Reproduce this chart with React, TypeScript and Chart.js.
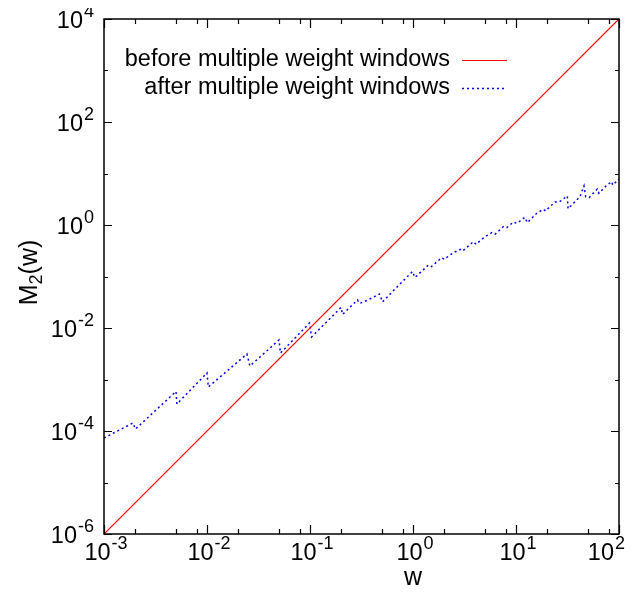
import { useEffect, useRef } from "react";
import { Chart, registerables } from "chart.js";

Chart.register(...registerables);

// M2(w) before the weight windows: a straight w^2 line
const beforeW = [1e-3, 1e2];
const beforeM = [1e-6, 1e4];

// M2(w) after multiple weight windows (sawtooth)
const afterW = [
  0.001, 0.00191, 0.00202, 0.005, 0.0051, 0.01, 0.0103, 0.0244, 0.0261, 0.05,
  0.0517, 0.099, 0.1035, 0.2, 0.207, 0.289, 0.303, 0.366, 0.473, 0.506,
  0.668, 0.989, 1.045, 1.41, 1.51, 1.9, 2.01, 2.46, 2.9, 3.04,
  3.85, 4.09, 5.0, 5.81, 6.25, 7.53, 8.13, 9.42, 10.2, 12.2,
  12.9, 15.9, 18.4, 19.3, 23.9, 26.3, 31.5, 32.0, 34.8, 41.8,
  45.7, 47.5, 51.2, 61.5, 63.9, 76.0, 85.0, 86.9, 100,
];
const afterM = [
  7.3e-5, 1.43e-4, 1.09e-4, 5.85e-4, 3.34e-4, 1.34e-3, 7.15e-4, 3.13e-3, 1.83e-3, 5.85e-3,
  3.27e-3, 0.0125, 0.0067, 0.025, 0.0183, 0.035, 0.03, 0.035, 0.0457, 0.032,
  0.0571, 0.125, 0.0957, 0.167, 0.156, 0.232, 0.216, 0.29, 0.337, 0.313,
  0.474, 0.422, 0.593, 0.708, 0.659, 0.927, 0.887, 1.14, 1.08, 1.41,
  1.11, 1.69, 2.02, 1.87, 2.8, 2.8, 3.66, 2.07, 2.45, 3.55,
  5.72, 3.55, 3.39, 5.0, 4.13, 5.9, 6.93, 5.98, 7.82,
];

// axis decades
const xMajorExp = [-3, -2, -1, 0, 1, 2];
const xMinorFactors = [2, 5, 8];
const yTickExp = [-6, -5, -4, -3, -2, -1, 0, 1, 2, 3, 4];
const yLabelExp = [-6, -4, -2, 0, 2, 4];

const seriesLabels = ["before multiple weight windows", "after multiple weight windows"];
const seriesColors = ["#ff0000", "#0000ff"];
const xTitle = "w";

const FONT = '"Liberation Sans", Arial, Helvetica, sans-serif';
const BASE_PX = 23.5;
const SUP_PX = 18;

function measurePower(ctx: CanvasRenderingContext2D, exp: number) {
  ctx.font = `${BASE_PX}px ${FONT}`;
  const wb = ctx.measureText("10").width;
  ctx.font = `${SUP_PX}px ${FONT}`;
  const ws = ctx.measureText(String(exp)).width;
  return { wb, ws, total: wb + ws + 1 };
}

function drawPower(ctx: CanvasRenderingContext2D, exp: number, start: number, y: number) {
  const { wb } = measurePower(ctx, exp);
  ctx.textAlign = "left";
  ctx.textBaseline = "middle";
  ctx.font = `${BASE_PX}px ${FONT}`;
  ctx.fillText("10", start, y);
  ctx.font = `${SUP_PX}px ${FONT}`;
  ctx.fillText(String(exp), start + wb + 1, y - 10);
}

const framePlugin = {
  id: "gnuFrame",
  afterDraw(chart: any) {
    const { ctx, chartArea, width } = chart;
    const { left, right, top, bottom } = chartArea;
    const xs = chart.scales.x;
    const ys = chart.scales.y;
    ctx.save();
    ctx.strokeStyle = "#000";
    ctx.fillStyle = "#000";

    // ticks, mirrored on all four sides
    ctx.lineWidth = 1.2;
    ctx.beginPath();
    for (const e of xMajorExp) {
      const px = Math.round(xs.getPixelForValue(Math.pow(10, e))) + 0.5;
      ctx.moveTo(px, bottom);
      ctx.lineTo(px, bottom - 9);
      ctx.moveTo(px, top);
      ctx.lineTo(px, top + 9);
      for (const f of xMinorFactors) {
        const v = f * Math.pow(10, e);
        if (v >= xs.min && v <= xs.max) {
          const mx = Math.round(xs.getPixelForValue(v)) + 0.5;
          ctx.moveTo(mx, bottom);
          ctx.lineTo(mx, bottom - 5);
          ctx.moveTo(mx, top);
          ctx.lineTo(mx, top + 5);
        }
      }
    }
    for (const e of yTickExp) {
      const py = Math.round(ys.getPixelForValue(Math.pow(10, e))) + 0.5;
      const len = e % 2 === 0 ? 8 : 4;
      ctx.moveTo(left, py);
      ctx.lineTo(left + len, py);
      ctx.moveTo(right, py);
      ctx.lineTo(right - len, py);
    }
    ctx.stroke();

    // frame
    ctx.lineWidth = 1.5;
    ctx.strokeRect(left, top, right - left, bottom - top);

    // tick labels
    for (const e of xMajorExp) {
      const { total } = measurePower(ctx, e);
      let start = xs.getPixelForValue(Math.pow(10, e)) + 2 - total / 2;
      if (start + total > width - 3) start = width - 3 - total;
      drawPower(ctx, e, start, bottom + 20);
    }
    for (const e of yLabelExp) {
      const { total } = measurePower(ctx, e);
      drawPower(ctx, e, left - 10 - total, ys.getPixelForValue(Math.pow(10, e)) + 3);
    }

    // axis titles
    ctx.textBaseline = "middle";
    ctx.textAlign = "center";
    ctx.font = `25px ${FONT}`;
    ctx.fillText(xTitle, left + 309, bottom + 44);

    ctx.save();
    ctx.translate(22, (top + bottom) / 2 - 4);
    ctx.rotate(-Math.PI / 2);
    ctx.font = `25px ${FONT}`;
    const wM = ctx.measureText("M").width;
    const wRest = ctx.measureText("(w)").width;
    ctx.font = `18px ${FONT}`;
    const w2 = ctx.measureText("2").width;
    const total = wM + w2 + wRest;
    let cx = -total / 2;
    ctx.textAlign = "left";
    ctx.font = `25px ${FONT}`;
    ctx.fillText("M", cx, 0);
    cx += wM;
    ctx.font = `18px ${FONT}`;
    ctx.fillText("2", cx, 7);
    cx += w2;
    ctx.font = `25px ${FONT}`;
    ctx.fillText("(w)", cx, 0);
    ctx.restore();

    // key
    const keyTextRight = left + 346;
    const keyLineStart = left + 358;
    const keyLineEnd = left + 403;
    const keyRows = [top + 41, top + 69];
    ctx.font = `${BASE_PX}px ${FONT}`;
    ctx.textAlign = "right";
    ctx.textBaseline = "middle";
    seriesLabels.forEach((label, i) => {
      const y = keyRows[i];
      ctx.fillStyle = "#000";
      ctx.fillText(label, keyTextRight, y);
      ctx.strokeStyle = seriesColors[i];
      ctx.lineWidth = i === 0 ? 1.2 : 1.5;
      ctx.setLineDash(i === 0 ? [] : [2, 3]);
      ctx.beginPath();
      ctx.moveTo(keyLineStart, Math.round(y) + 0.5);
      ctx.lineTo(keyLineEnd, Math.round(y) + 0.5);
      ctx.stroke();
    });
    ctx.setLineDash([]);
    ctx.restore();
  },
};

export default function App() {
  const canvasRef = useRef<HTMLCanvasElement | null>(null);

  useEffect(() => {
    const canvas = canvasRef.current;
    if (!canvas) return;
    const chart = new Chart(canvas, {
      type: "line",
      data: {
        datasets: [
          {
            label: seriesLabels[0],
            data: beforeW.map((w, i) => ({ x: w, y: beforeM[i] })),
            borderColor: seriesColors[0],
            borderWidth: 1.2,
            pointRadius: 0,
            fill: false,
            tension: 0,
          },
          {
            label: seriesLabels[1],
            data: afterW.map((w, i) => ({ x: w, y: afterM[i] })),
            borderColor: seriesColors[1],
            borderWidth: 1.5,
            borderDash: [2, 3],
            pointRadius: 0,
            fill: false,
            tension: 0,
          },
        ],
      },
      options: {
        responsive: false,
        animation: false,
        devicePixelRatio: 1,
        layout: { padding: { left: 96, right: 9, top: 11, bottom: 57 } },
        scales: {
          x: { type: "logarithmic", min: 1e-3, max: 1e2, display: false },
          y: { type: "logarithmic", min: 1e-6, max: 1e4, display: false },
        },
        plugins: {
          legend: { display: false },
          tooltip: { enabled: false },
        },
      },
      plugins: [framePlugin],
    });
    return () => chart.destroy();
  }, []);

  return (
    <canvas
      ref={canvasRef}
      width={620}
      height={583}
      style={{ display: "block", background: "#fff" }}
    />
  );
}
